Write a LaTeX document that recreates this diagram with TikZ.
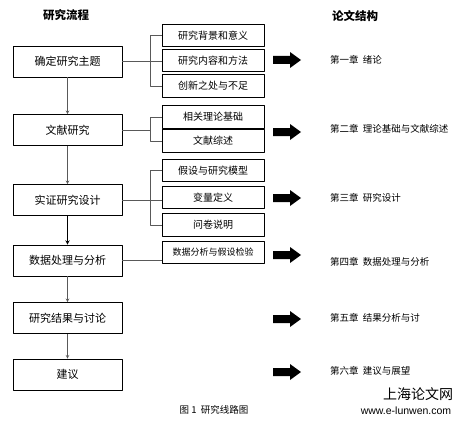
\documentclass[tikz,border=0pt]{standalone}
\usepackage{fontspec}
\newfontfamily\cjk{Noto Sans CJK SC}
\newfontfamily\latin{Liberation Sans}
\usetikzlibrary{arrows}
\begin{document}
\begin{tikzpicture}[x=1pt, y=-1pt, font=\cjk\fontsize{11}{13}\selectfont, line join=round, >=stealth,
  mainbox/.style={draw, line width=0.9pt, minimum width=109pt, minimum height=31pt, inner sep=0pt},
  subbox/.style={draw, line width=0.9pt, minimum width=102pt, minimum height=22.5pt, inner sep=0pt,
    font=\cjk\fontsize{10}{12}\selectfont},
  link/.style={draw=black!65, line width=0.6pt},
  chapter/.style={anchor=west, inner sep=0pt, font=\cjk\fontsize{9.5}{11}\selectfont}]
\useasboundingbox (0,0) rectangle (462,425);
% x-positions
\def\xmain{67.5}
\def\xsub{213}
\def\xfork{150}
% headings
\node[font=\cjk\bfseries\fontsize{11.5}{13}\selectfont] (hleft) at (66,15) {研究流程};
\node[font=\cjk\bfseries\fontsize{11.5}{13}\selectfont] (hright) at (355,16) {论文结构};
% main flow
\node[mainbox] (topic) at (\xmain,61.5) {确定研究主题};
\node[mainbox] (lit) at (\xmain,130) {文献研究};
\node[mainbox] (design) at (\xmain,200) {实证研究设计};
\node[mainbox] (data) at (\xmain,260.5) {数据处理与分析};
\node[mainbox] (result) at (\xmain,318) {研究结果与讨论};
\node[mainbox] (advice) at (\xmain,374.5) {建议};
\draw[link, ->] (topic) -- (lit);
\draw[link, ->] (lit) -- (design);
\draw[->, line width=0.9pt] (design) -- (data);
\draw[link, ->] (data) -- (result);
\draw[link, ->] (result) -- (advice);
% sub items
\node[subbox] (bg) at (\xsub,35.5) {研究背景和意义};
\node[subbox] (method) at (\xsub,60.5) {研究内容和方法};
\node[subbox] (innov) at (\xsub,86) {创新之处与不足};
\node[subbox] (theory) at (\xsub,117) {相关理论基础};
\node[subbox] (review) at (\xsub,141) {文献综述};
\node[subbox] (model) at (\xsub,170.5) {假设与研究模型};
\node[subbox] (vars) at (\xsub,197.5) {变量定义};
\node[subbox] (quest) at (\xsub,225) {问卷说明};
\node[subbox, font=\cjk\fontsize{9}{11}\selectfont] (test) at (\xsub,252.5) {数据分析与假设检验};
% brackets
\draw[link] (topic.east) -- (topic.east -| method.west);
\draw[link] (bg.west) -- (\xfork,35.5) |- (innov.west);
\draw[link] (lit.east) -- (lit.east -| \xfork,0);
\draw[link] (theory.west) -- (\xfork,117) |- (review.west);
\draw[link] (design.east) -- (design.east -| vars.west);
\draw[link] (model.west) -- (\xfork,170.5) |- (quest.west);
\draw[link] (data.east) -- (data.east -| test.west);
% block arrows
\foreach \y in {60,132,198,255,319,372}
  \fill (273,\y-4) -- (290,\y-4) -- (290,\y-8) -- (301,\y) -- (290,\y+8) -- (290,\y+4) -- (273,\y+4) -- cycle;
% chapters
\node[chapter] (ch1) at (330,60) {第一章\ \ 绪论};
\node[chapter] (ch2) at (330,129) {第二章\ \ 理论基础与文献综述};
\node[chapter] (ch3) at (330,198) {第三章\ \ 研究设计};
\node[chapter] (ch4) at (330,262) {第四章\ \ 数据处理与分析};
\node[chapter] (ch5) at (330,318) {第五章\ \ 结果分析与讨};
\node[chapter] (ch6) at (330,371) {第六章\ \ 建议与展望};
% caption and mark
\node[font=\cjk\fontsize{9.5}{11}\selectfont] (cap) at (214,410) {图 1\ \ 研究线路图};
\node[font=\cjk\fontsize{14}{16}\selectfont] (mark) at (418,394) {上海论文网};
\node[font=\latin\fontsize{10.5}{12}\selectfont] (web) at (406,411) {www.e-lunwen.com};
\end{tikzpicture}
\end{document}
